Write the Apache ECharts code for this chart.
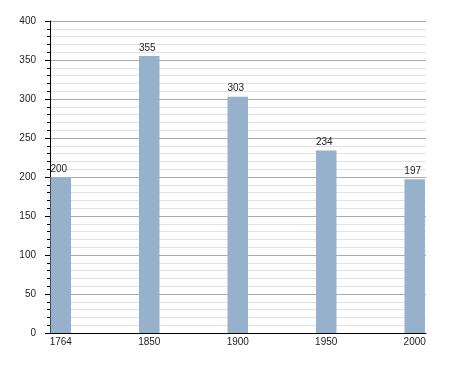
<!DOCTYPE html>
<html>
<head>
<meta charset="utf-8">
<script src="https://cdn.jsdelivr.net/npm/echarts@6/dist/echarts.min.js"></script>
<style>html,body{margin:0;padding:0;background:#fff}#c{width:455px;height:373px}</style>
</head>
<body>
<div id="c"></div>
<script>
var categories = ['1764', '1850', '1900', '1950', '2000'];
var values = [200, 355, 303, 234, 197];
var yTicks = [0, 50, 100, 150, 200, 250, 300, 350, 400];

var chart = echarts.init(document.getElementById('c'), null, {renderer: 'canvas'});
var font = 'Liberation Sans, Arial, sans-serif';
chart.setOption({
  animation: false,
  backgroundColor: '#fff',
  grid: [
    {left: 50, right: 29, top: 21, bottom: 40},
    {left: 60.8, right: 40.3, top: 21, bottom: 40}
  ],
  xAxis: [
    {gridIndex: 0, type: 'value', min: 0, max: 1,
     axisLine: {show: true, onZero: false, lineStyle: {color: '#000', width: 1}},
     axisTick: {show: false}, axisLabel: {show: false}, splitLine: {show: false}},
    {gridIndex: 1, type: 'category', data: categories, boundaryGap: false,
     axisLine: {show: false}, axisTick: {show: false}, splitLine: {show: false},
     axisLabel: {margin: 4, fontSize: 10, color: '#222', fontFamily: font}}
  ],
  yAxis: [
    {gridIndex: 0, type: 'value', min: yTicks[0], max: yTicks[yTicks.length - 1], interval: 50,
     axisLine: {show: true, lineStyle: {color: '#000', width: 1}},
     axisTick: {show: true, length: 5, lineStyle: {color: '#000'}},
     minorTick: {show: true, splitNumber: 5, length: 3, lineStyle: {color: '#000'}},
     axisLabel: {margin: 14, fontSize: 10, color: '#222', fontFamily: font},
     splitLine: {show: true, lineStyle: {color: '#aaaaaa', width: 1}},
     minorSplitLine: {show: true, lineStyle: {color: '#e2e2e2', width: 1}}},
    {gridIndex: 1, type: 'value', min: 0, max: 400, show: false, splitLine: {show: false}}
  ],
  series: [{
    type: 'bar', xAxisIndex: 1, yAxisIndex: 1, data: values, barWidth: 20.5,
    itemStyle: {color: '#97b0cb'},
    label: {show: true, position: 'top', distance: 3, offset: [-2, 0], fontSize: 10, color: '#222', fontFamily: font}
  }]
});
</script>
</body>
</html>
